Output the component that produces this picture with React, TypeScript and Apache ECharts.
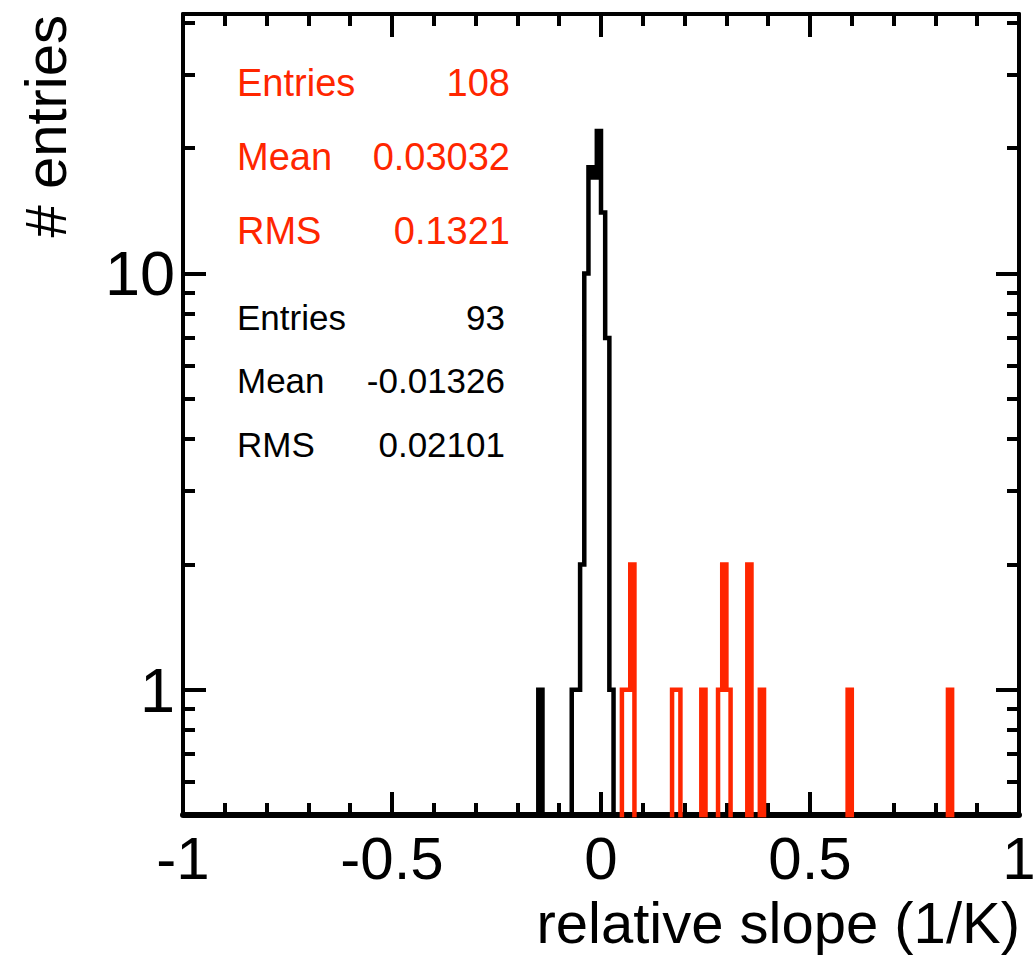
import React, { useEffect, useRef } from 'react';
import * as echarts from 'echarts';

// ---- data ----
const BIN_WIDTH = 0.01;
const X_MIN = -1;
const X_MAX = 1;
const X_INTERVAL = 0.5;
const Y_MIN = 0.5;
const Y_MAX = 42;
const Y_MAJOR_TICKS = [1, 10];
const Y_MINOR_TICKS = [0.6, 0.7, 0.8, 0.9, 2, 3, 4, 5, 6, 7, 8, 9, 20, 30, 40];

const blackBinLow = [-0.15, -0.07, -0.06, -0.05, -0.04, -0.03, -0.02, -0.01, 0.0, 0.01, 0.02];
const blackCounts = [1, 1, 1, 2, 10, 18, 17, 22, 14, 7, 1];

const redBinLow = [0.05, 0.06, 0.07, 0.17, 0.18, 0.24, 0.28, 0.29, 0.3, 0.35, 0.38, 0.59, 0.83];
const redCounts = [1, 1, 2, 1, 1, 1, 1, 2, 1, 2, 1, 1, 1];

const redStatLabels = ['Entries', 'Mean', 'RMS'];
const redStatValues = ['108', '0.03032', '0.1321'];
const blackStatLabels = ['Entries', 'Mean', 'RMS'];
const blackStatValues = ['93', '-0.01326', '0.02101'];

const X_TITLE = 'relative slope (1/K)';
const Y_TITLE = '# entries';

const RED = '#ff2600';
const BLACK = '#000000';
const FONT = '"Liberation Sans", Arial, Helvetica, sans-serif';
const FLOOR = 0.2; // below the axis minimum, clipped away (empty bins)

function outline(lows: number[], counts: number[]): number[][] {
  const pts: number[][] = [];
  let prevHi: number | null = null;
  for (let i = 0; i < lows.length; i++) {
    const lo = lows[i];
    const hi = lo + BIN_WIDTH;
    const h = counts[i] > 0 ? counts[i] : FLOOR;
    if (prevHi === null || Math.abs(prevHi - lo) > 1e-9) {
      if (prevHi !== null) pts.push([prevHi, FLOOR]);
      pts.push([lo, FLOOR]);
    }
    pts.push([lo, h], [hi, h]);
    prevHi = hi;
  }
  if (prevHi !== null) pts.push([prevHi, FLOOR]);
  return pts;
}

export default function App() {
  const ref = useRef<HTMLDivElement>(null);

  useEffect(() => {
    document.body.style.margin = '0';
    if (!ref.current) return;
    const chart = echarts.init(ref.current, null, { renderer: 'svg' });

    const axisLine = (w: number) => ({ show: true, onZero: false, lineStyle: { color: BLACK, width: w } });
    const noAxisLine = { show: false, onZero: false };

    const xAxisBase = {
      type: 'value',
      min: X_MIN,
      max: X_MAX,
      interval: X_INTERVAL,
      splitLine: { show: false },
      minorSplitLine: { show: false },
      axisTick: { show: true, inside: true, length: 23, lineStyle: { color: BLACK, width: 4 } },
      minorTick: { show: true, splitNumber: 5, length: 12, lineStyle: { color: BLACK, width: 4 } },
    };

    const yAxisBase = {
      type: 'log',
      logBase: 10,
      min: Y_MIN,
      max: Y_MAX,
      splitLine: { show: false },
    };

    const statGraphics: any[] = [];
    redStatLabels.forEach((lab, i) => {
      const y = 83 + i * 74;
      statGraphics.push({
        type: 'text', x: 237, y,
        style: { text: lab, fill: RED, font: `38px ${FONT}`, align: 'left', verticalAlign: 'middle' },
      });
      statGraphics.push({
        type: 'text', x: 510, y,
        style: { text: redStatValues[i], fill: RED, font: `38px ${FONT}`, align: 'right', verticalAlign: 'middle' },
      });
    });
    blackStatLabels.forEach((lab, i) => {
      const y = 317 + i * 63.5;
      statGraphics.push({
        type: 'text', x: 237, y,
        style: { text: lab, fill: BLACK, font: `35px ${FONT}`, align: 'left', verticalAlign: 'middle' },
      });
      statGraphics.push({
        type: 'text', x: 505, y,
        style: { text: blackStatValues[i], fill: BLACK, font: `35px ${FONT}`, align: 'right', verticalAlign: 'middle' },
      });
    });

    const option: any = {
      animation: false,
      backgroundColor: '#ffffff',
      textStyle: { fontFamily: FONT },
      grid: { left: 183, right: 17, top: 14, bottom: 140, containLabel: false, outerBoundsMode: 'none' },
      xAxis: [
        {
          ...xAxisBase,
          position: 'bottom',
          axisLine: axisLine(6),
          axisLabel: {
            show: true, color: BLACK, fontSize: 60, lineHeight: 50, fontFamily: FONT, margin: 18,
            formatter: (v: number) => String(v),
          },
        },
        {
          ...xAxisBase,
          position: 'top',
          axisLine: axisLine(4),
          axisLabel: { show: false },
        },
      ],
      yAxis: [
        {
          ...yAxisBase,
          position: 'left',
          axisLine: axisLine(4),
          axisTick: { show: true, inside: true, length: 23, customValues: Y_MAJOR_TICKS, lineStyle: { color: BLACK, width: 4 } },
          axisLabel: {
            show: true, color: BLACK, fontSize: 63, fontFamily: FONT, margin: 8,
            customValues: Y_MAJOR_TICKS, formatter: (v: number) => String(v),
          },
        },
        {
          ...yAxisBase,
          position: 'left',
          axisLine: noAxisLine,
          axisTick: { show: true, inside: true, length: 12, customValues: Y_MINOR_TICKS, lineStyle: { color: BLACK, width: 4 } },
          axisLabel: { show: false },
        },
        {
          ...yAxisBase,
          position: 'right',
          axisLine: axisLine(4),
          axisTick: { show: true, inside: true, length: 23, customValues: Y_MAJOR_TICKS, lineStyle: { color: BLACK, width: 4 } },
          axisLabel: { show: false },
        },
        {
          ...yAxisBase,
          position: 'right',
          axisLine: noAxisLine,
          axisTick: { show: true, inside: true, length: 12, customValues: Y_MINOR_TICKS, lineStyle: { color: BLACK, width: 4 } },
          axisLabel: { show: false },
        },
      ],
      series: [
        {
          name: 'red',
          type: 'line',
          xAxisIndex: 0,
          yAxisIndex: 0,
          data: outline(redBinLow, redCounts),
          showSymbol: false,
          symbol: 'none',
          clip: true,
          lineStyle: { color: RED, width: 4.5, join: 'miter', cap: 'butt' },
          z: 2,
        },
        {
          name: 'black',
          type: 'line',
          xAxisIndex: 0,
          yAxisIndex: 0,
          data: outline(blackBinLow, blackCounts),
          showSymbol: false,
          symbol: 'none',
          clip: true,
          lineStyle: { color: BLACK, width: 4.5, join: 'miter', cap: 'butt' },
          z: 3,
        },
      ],
      graphic: [
        ...statGraphics,
        {
          type: 'text', x: 1020, y: 922,
          style: { text: X_TITLE, fill: BLACK, font: `58px ${FONT}`, lineHeight: 58, align: 'right', verticalAlign: 'middle' },
        },
        {
          type: 'text', x: 45, y: 15, rotation: Math.PI / 2,
          style: { text: Y_TITLE, fill: BLACK, font: `58px ${FONT}`, align: 'right', verticalAlign: 'middle' },
        },
      ],
    };

    chart.setOption(option);
    return () => chart.dispose();
  }, []);

  return <div ref={ref} style={{ width: 1036, height: 955 }} />;
}
